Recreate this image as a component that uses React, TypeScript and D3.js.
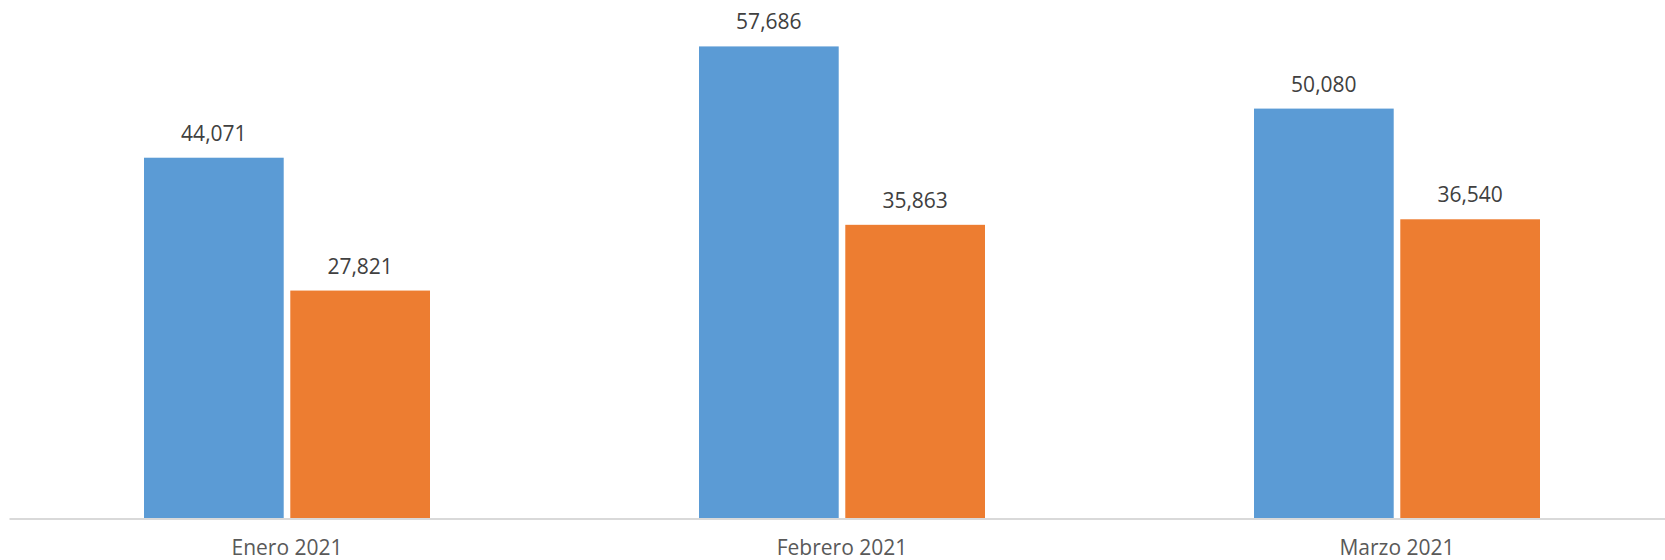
import React from "react";
import * as d3 from "d3";

const categories = ["Enero 2021", "Febrero 2021", "Marzo 2021"];
const seriesNames = ["Serie 1", "Serie 2"];
const serie1 = [44071, 57686, 50080];
const serie2 = [27821, 35863, 36540];
const colors = ["#5B9BD5", "#ED7D31"];

const W = 1665;
const H = 560;

export default function App() {
  const x0 = d3
    .scaleBand<string>()
    .domain(categories)
    .range([9.5, 1674.5])
    .paddingInner(0.4847)
    .paddingOuter(0.4847 / 2);
  const x1 = d3
    .scaleBand<string>()
    .domain(seriesNames)
    .range([0, x0.bandwidth()])
    .paddingInner(0.045)
    .paddingOuter(0);
  const y = d3.scaleLinear().domain([0, 60000]).range([518, 27.5]);
  const fmt = d3.format(",");
  const values = [serie1, serie2];
  const font = "'Open Sans', 'Noto Sans', sans-serif";

  return (
    <svg
      width={W}
      height={H}
      style={{ position: "absolute", left: 0, top: 0, display: "block", background: "#fff" }}
    >
      {categories.map((c, i) => (
        <g key={c} transform={`translate(${x0(c)},0)`}>
          {seriesNames.map((s, j) => {
            const v = values[j][i];
            const bx = x1(s)!;
            const bw = x1.bandwidth();
            return (
              <g key={s}>
                <rect x={bx} y={y(v)} width={bw} height={y(0) - y(v)} fill={colors[j]} />
                <text
                  x={bx + bw / 2}
                  y={y(v) - 17}
                  textAnchor="middle"
                  fontFamily={font}
                  fontSize={21}
                  fill="#404040"
                >
                  {fmt(v)}
                </text>
              </g>
            );
          })}
        </g>
      ))}
      <line x1={9.5} x2={W} y1={519} y2={519} stroke="#D9D9D9" strokeWidth={2} />
      {categories.map((c) => (
        <text
          key={c}
          x={x0(c)! + x0.bandwidth() / 2}
          y={555}
          textAnchor="middle"
          fontFamily={font}
          fontSize={21}
          fill="#595959"
        >
          {c}
        </text>
      ))}
    </svg>
  );
}
